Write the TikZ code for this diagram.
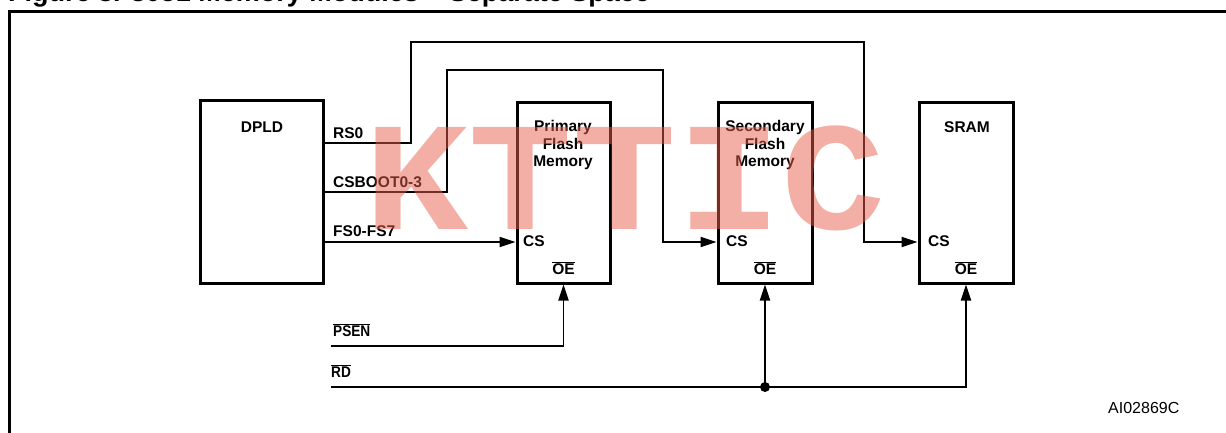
\documentclass[tikz,border=0pt]{standalone}
\usepackage{fontspec}
\setmainfont{Liberation Sans}
\newfontfamily\wmfont{Liberation Mono}
\usetikzlibrary{arrows.meta}
\definecolor{wm}{RGB}{231,95,75}
\begin{document}
\begin{tikzpicture}[x=1pt,y=-1pt,
  box/.style={draw, line width=3pt, inner sep=0pt},
  wire/.style={line width=1.9pt},
  arr/.style={wire, -{Triangle[length=16pt,width=10pt]}},
  lab/.style={font=\bfseries\fontsize{15.5}{17.5}\selectfont, inner sep=0pt},
  nlab/.style={font=\bfseries\fontsize{15.5}{17.5}\selectfont, inner sep=0pt, xscale=0.88},
]
\useasboundingbox (0,0) rectangle (1226,432);
\clip (0,0) rectangle (1226,432);
% title (cut off at the top)
\node[anchor=base west, font=\bfseries\fontsize{27}{30}\selectfont, inner sep=0pt] (title) at (8,1) {Figure 8. 8051 Memory Modules – Separate Space};
% frame
\draw[line width=2.6pt] (1240,11.5) -- (9.5,11.5) -- (9.5,445);
% boxes
\node[box, minimum width=123pt, minimum height=183pt] (dpld) at (261.5,191.5) {};
\node[box, minimum width=93pt, minimum height=181pt] (prim) at (563.5,192.5) {};
\node[box, minimum width=94pt, minimum height=181pt] (sec) at (765,192.5) {};
\node[box, minimum width=94pt, minimum height=181pt] (sram) at (966,192.5) {};
% box titles
\node[lab] (dpldl) at (262,127) {DPLD};
\node[lab, align=center, anchor=north] (priml) at (563,120.5) {Primary\\Flash\\Memory};
\node[lab, align=center, anchor=north] (secl) at (765,120.5) {Secondary\\Flash\\Memory};
\node[lab] (sraml) at (967,127) {SRAM};
% pin labels
\foreach \b/\x in {prim/523, sec/726, sram/928}{
  \node[lab, anchor=west] (\b cs) at (\x,241) {CS};
  \node[lab] (\b oe) at (\b.south |- 0,268) {$\overline{\hbox{\bfseries OE}}$};
}
% signal labels
\node[lab, anchor=west] (rsl) at (333,133) {RS0};
\node[lab, anchor=west] (cbl) at (333,182) {CSBOOT0-3};
\node[lab, anchor=west] (fsl) at (333,231) {FS0-FS7};
\node[nlab, anchor=west] (psenl) at (333,330) {$\overline{\hbox{\bfseries PSEN}}$};
\node[nlab, anchor=west] (rdl) at (331,371) {$\overline{\hbox{\bfseries RD}}$};
\node[font=\fontsize{16}{18}\selectfont, inner sep=0pt, anchor=west] (code) at (1108,408) {AI02869C};
% helper coordinates
\coordinate (yrs) at (0,143);
\coordinate (ycb) at (0,192);
\coordinate (ycs) at (0,242);
\coordinate (psen) at (331,346);
\coordinate (rd) at (331,387);
% wires
\draw[arr] (dpld.east |- yrs) -- (411,143) -- (411,42) -- (864,42) -- (864,242) -- (sram.west |- ycs);
\draw[arr] (dpld.east |- ycb) -- (447,192) -- (447,70) -- (663,70) -- (663,242) -- (sec.west |- ycs);
\draw[arr] (dpld.east |- ycs) -- (prim.west |- ycs);
\draw[arr] (psen) -| (prim.south);
\draw[arr] (rd) -| (sram.south);
\coordinate (j) at (sec.south |- rd);
\fill (j) circle (5pt);
\draw[arr] (j) -- (sec.south);
% watermark
\node[font=\wmfont\bfseries\fontsize{155}{155}\selectfont, text=wm, text opacity=0.5, inner sep=0pt, xscale=1.12] (wmk) at (625,178.5) {KTTIC};
\end{tikzpicture}
\end{document}
